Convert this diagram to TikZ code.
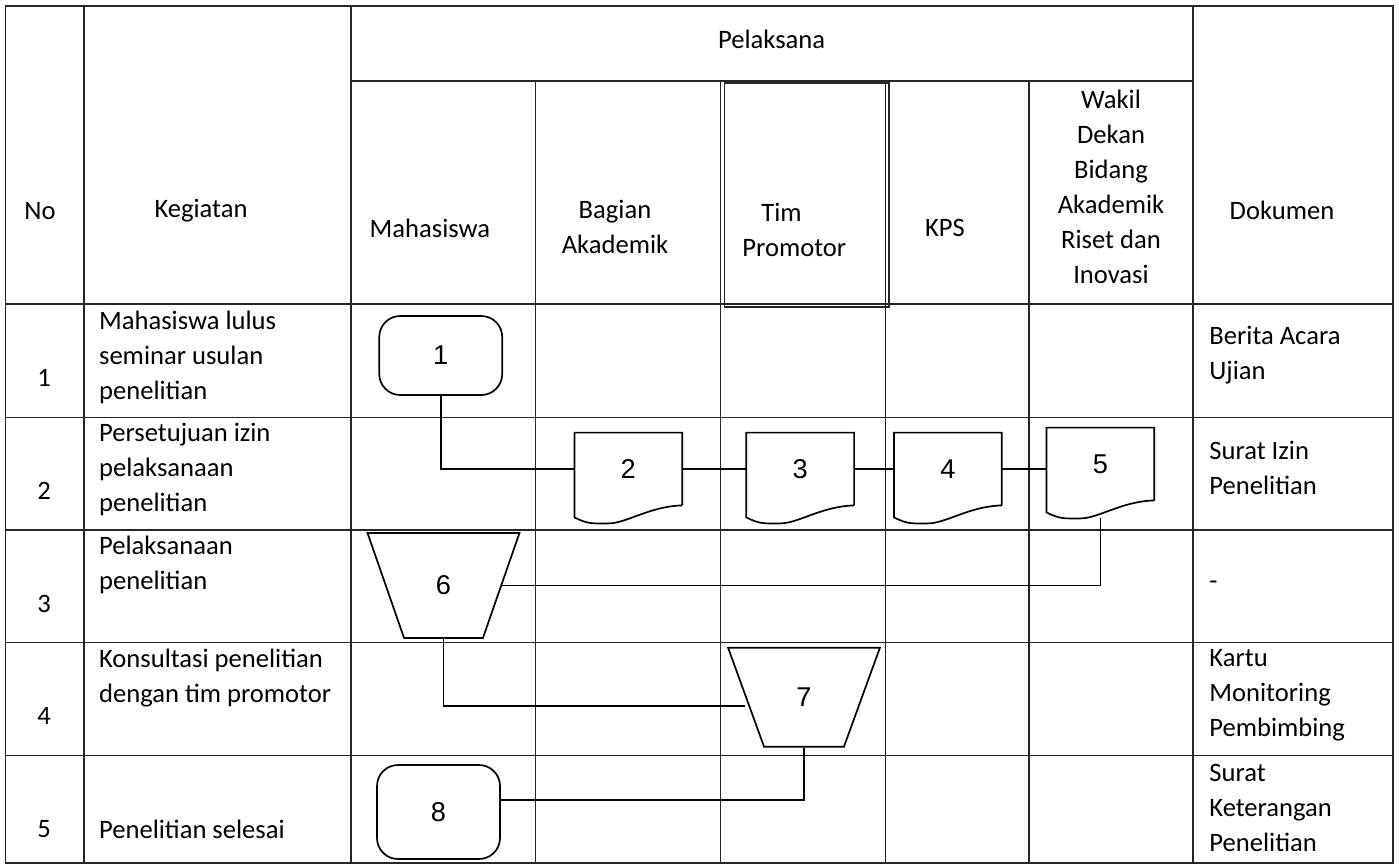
\documentclass[tikz,border=0pt]{standalone}
\usepackage{fontspec}
\setmainfont{Carlito}
\newfontfamily\numfont{Liberation Sans}
\usetikzlibrary{shapes.geometric, calc}

% outline of a document symbol around a named node
\newcommand{\docoutline}[1]{%
  \draw[shapeline] (#1.south east) -- (#1.north east) -- (#1.north west) -- ([yshift=-6pt]#1.south west)
    .. controls +(7pt,-3.5pt) and +(-8pt,0pt) .. ([xshift=17pt,yshift=-9pt]#1.south west)
    .. controls +(9pt,0pt) and +(-16.5pt,-0.5pt) .. (#1.south east);}

\begin{document}
\begin{tikzpicture}[
    x=0.5pt, y=-0.5pt,
    tbl/.style={line width=0.6pt, black!85},
    shapeline/.style={line width=0.85pt},
    link/.style={line width=0.8pt},
    txt/.style={font=\fontsize{13.3}{17.5}\selectfont, inner sep=0pt, align=center},
    ltxt/.style={txt, align=left, anchor=west},
    numtxt/.style={font=\numfont\fontsize{13.6}{16}\selectfont},
    endbox/.style={rectangle, draw, shapeline, rounded corners=10.5pt, minimum width=61.5pt, inner sep=0pt, numtxt},
    docbox/.style={rectangle, minimum width=53.5pt, minimum height=36pt, inner sep=0pt, numtxt},
    manualop/.style={trapezium, draw, shapeline, shape border rotate=180, trapezium left angle=70, trapezium right angle=70,
      trapezium stretches=true, minimum width=76pt, inner sep=0pt, numtxt}
  ]
  \useasboundingbox (0,0) rectangle (1399,867);

  % table
  \draw[tbl] (5.5,6) rectangle (1393,863);
  \draw[tbl] (84,6) -- (84,863);
  \draw[tbl] (351,6) -- (351,863);
  \draw[tbl] (1193,6) -- (1193,863);
  \draw[tbl] (351,81) -- (1193,81);
  \draw[tbl] (535.7,81) -- (535.7,863);
  \draw[tbl] (720.7,81) -- (720.7,863);
  \draw[tbl] (885.4,81) -- (885.4,863);
  \draw[tbl] (1029,81) -- (1029,863);
  \draw[tbl] (724.3,83) rectangle (889,307);
  \draw[tbl] (5.5,304) -- (1393,304);
  \draw[tbl] (5.5,417.5) -- (1393,417.5);
  \draw[tbl] (5.5,530) -- (1393,530);
  \draw[tbl] (5.5,642.5) -- (1393,642.5);
  \draw[tbl] (5.5,755.5) -- (1393,755.5);

  % header
  \node[txt] (hpel) at (771.6,39) {Pelaksana};
  \node[txt] (hno) at (40,211) {No};
  \node[txt] (hkeg) at (201,211) {Kegiatan};
  \node[txt] (hmhs) at (429.9,228) {Mahasiswa};
  \node[txt] (hbag) at (615,227) {Bagian\\Akademik};
  \node[txt, align=left, anchor=west] (htim) at (742,229.5) {\hspace*{9.5pt}Tim\\Promotor};
  \node[txt] (hkps) at (945,228) {KPS};
  \node[txt] (hwd) at (1111,186.5) {Wakil\\Dekan\\Bidang\\Akademik\\Riset dan\\Inovasi};
  \node[txt] (hdok) at (1282,210) {Dokumen};

  % rows
  \node[txt] (no1) at (44,377.8) {1};
  \node[txt] (no2) at (44,490.6) {2};
  \node[txt] (no3) at (44,603.8) {3};
  \node[txt] (no4) at (44,716) {4};
  \node[txt] (no5) at (44,828.7) {5};
  \node[ltxt] (keg1) at (98.7,357) {Mahasiswa lulus\\seminar usulan\\penelitian};
  \node[ltxt] (keg2) at (98.7,469.3) {Persetujuan izin\\pelaksanaan\\penelitian};
  \node[ltxt] (keg3) at (98.7,565.4) {Pelaksanaan\\penelitian};
  \node[ltxt] (keg4) at (98.7,678.5) {Konsultasi penelitian\\dengan tim promotor};
  \node[ltxt] (keg5) at (98.7,829.8) {Penelitian selesai};
  \node[ltxt] (dok1) at (1209,355.5) {Berita Acara\\Ujian};
  \node[ltxt] (dok2) at (1209,468) {Surat Izin\\Penelitian};
  \node[ltxt] (dok3) at (1209,585) {-};
  \node[ltxt] (dok4) at (1209,695.5) {Kartu\\Monitoring\\Pembimbing};
  \node[ltxt] (dok5) at (1209,808) {Surat\\Keterangan\\Penelitian};

  % flow
  \node[endbox, minimum height=39.5pt] (s1) at (440.75,355.5) {1};
  \node[docbox] (s2) at (628.3,469) {2};
  \node[docbox] (s3) at (800.2,469) {3};
  \node[docbox] (s4) at (947.85,469) {4};
  \node[docbox] (s5) at (1100.35,464) {5};
  \docoutline{s2}
  \docoutline{s3}
  \docoutline{s4}
  \docoutline{s5}
  \node[manualop, minimum height=52.5pt] (s6) at (443.5,585.5) {6};
  \node[manualop, minimum height=49.5pt] (s7) at (804,697.2) {7};
  \node[endbox, minimum height=47pt] (s8) at (438.5,812) {8};
  \coordinate (s5foot) at ($(s5.south)+(0,18)$);

  \draw[link] (s1.south) |- (s2.west);
  \draw[link] (s2.east) -- (s3.west);
  \draw[link] (s3.east) -- (s4.west);
  \draw[link] (s4.east) -- (s4.east -| s5.west);
  \draw[link] (s5foot) |- (s6.east);
  \draw[link] (s6.south) |- ($(s7.west)+(0,8.5)$);
  \draw[link] (s7.south) |- ($(s8.east)+(0,-12)$);
\end{tikzpicture}
\end{document}
